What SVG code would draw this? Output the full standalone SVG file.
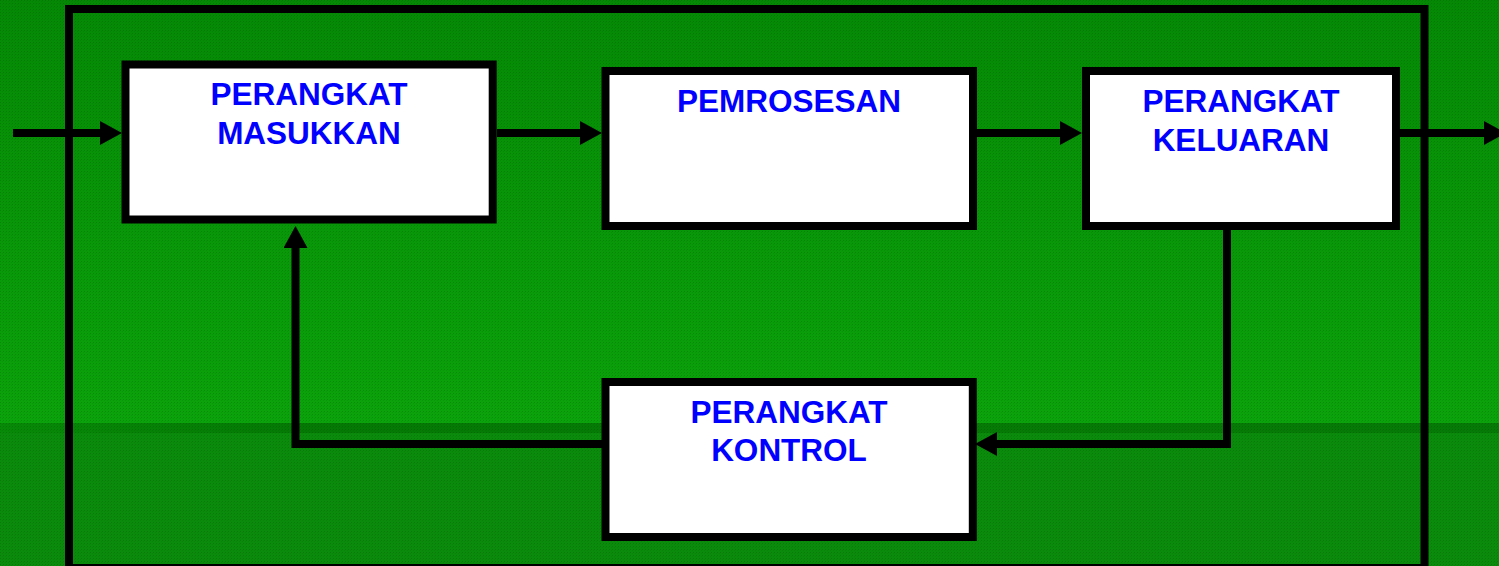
<svg xmlns="http://www.w3.org/2000/svg" width="1499" height="566" viewBox="0 0 1499 566">
  <defs>
    <linearGradient id="bgTop" x1="0" y1="0" x2="0" y2="1">
      <stop offset="0" stop-color="#058905"/>
      <stop offset="1" stop-color="#0ba30b"/>
    </linearGradient>
    <linearGradient id="band" x1="0" y1="0" x2="1" y2="0">
      <stop offset="0" stop-color="#078a07"/>
      <stop offset="0.2" stop-color="#047a04"/>
      <stop offset="0.5" stop-color="#057c05"/>
      <stop offset="1" stop-color="#067a06"/>
    </linearGradient>
    <pattern id="grain" width="3" height="3" patternUnits="userSpaceOnUse">
      <rect x="0" y="0" width="1" height="1" fill="#000" opacity="0.12"/>
      <rect x="2" y="1" width="1" height="1" fill="#000" opacity="0.06"/>
    </pattern>
    <marker id="head" viewBox="0 0 22 24" refX="0" refY="12" markerWidth="22" markerHeight="24" markerUnits="userSpaceOnUse" orient="auto">
      <polygon points="0,0 22,12 0,24" fill="#000"/>
    </marker>
    <style>
      .box { fill: #ffffff; stroke: #000000; stroke-width: 8; }
      .label { font-family: "Liberation Sans", Arial, sans-serif; font-weight: bold; font-size: 31.5px; fill: #0000ff; text-anchor: middle; }
      .wire { fill: none; stroke: #000000; stroke-width: 8; stroke-linejoin: miter; stroke-linecap: butt; }
    </style>
  </defs>

  <!-- background -->
  <rect x="0" y="0" width="1499" height="424" fill="url(#bgTop)"/>
  <rect x="0" y="424" width="1499" height="142" fill="#0b8b0b"/>
  <rect x="0" y="423" width="1499" height="10" fill="url(#band)"/>
  <rect x="0" y="0" width="1499" height="566" fill="url(#grain)"/>

  <!-- system boundary -->
  <rect id="frame" x="69" y="9" width="1355.5" height="559" fill="none" stroke="#000" stroke-width="8"/>

  <!-- connectors -->
  <g id="connectors">
    <path class="wire" d="M13 133 H100" marker-end="url(#head)"/>
    <path class="wire" d="M497 133 H580" marker-end="url(#head)"/>
    <path class="wire" d="M977 133 H1060" marker-end="url(#head)"/>
    <path class="wire" d="M1400 133 H1484" marker-end="url(#head)"/>
    <path class="wire" d="M1227 230 V444 H997" marker-end="url(#head)"/>
    <path class="wire" d="M602 444 H295.5 V248" marker-end="url(#head)"/>
  </g>

  <g id="input-device">
    <rect class="box" x="125.5" y="64.5" width="367.2" height="155"/>
    <text class="label" x="309" y="104.5">PERANGKAT</text>
    <text class="label" x="309" y="144">MASUKKAN</text>
  </g>

  <g id="processing">
    <rect class="box" x="605.5" y="71" width="367.5" height="155"/>
    <text class="label" x="789" y="111.5">PEMROSESAN</text>
  </g>

  <g id="output-device">
    <rect class="box" x="1086" y="71" width="310" height="155"/>
    <text class="label" x="1241" y="112">PERANGKAT</text>
    <text class="label" x="1241" y="151">KELUARAN</text>
  </g>

  <g id="control-device">
    <rect class="box" x="605.5" y="382" width="367.3" height="155"/>
    <text class="label" x="789" y="422.7">PERANGKAT</text>
    <text class="label" x="789" y="460.7">KONTROL</text>
  </g>
</svg>
